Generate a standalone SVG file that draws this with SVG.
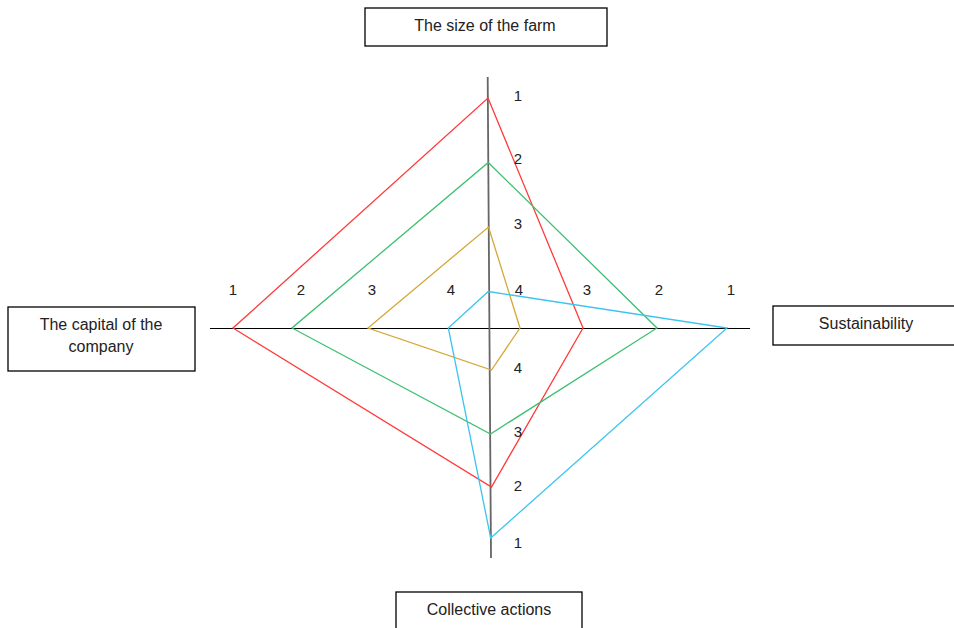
<svg xmlns="http://www.w3.org/2000/svg" width="954" height="628" viewBox="0 0 954 628">
<style>
.box{fill:#fff;stroke:#000;stroke-width:1.3}
.t{font-family:"Liberation Sans",Arial,sans-serif;font-size:16px;fill:#222;text-anchor:middle}
.n{font-family:"Liberation Sans",Arial,sans-serif;font-size:15px;fill:#222;text-anchor:middle}
.p{fill:none;stroke-width:1.3}
</style>
<rect width="954" height="628" fill="#fff"/>
<g id="axes">
<line x1="210" y1="328.5" x2="750" y2="328.5" stroke="#000" stroke-width="1"/>
<line x1="487.7" y1="77" x2="491" y2="558" stroke="#666" stroke-width="1.8"/>
</g>
<g id="connectors">
<polygon class="p" stroke="#ff3b3b" points="488,98 583,328 491.5,487 233,328"/>
<polygon class="p" stroke="#3cc070" points="488.3,162.5 657,328 490.5,434 292,328"/>
<polygon class="p" stroke="#d4a838" points="488.5,227 520,328 491.5,370 368,328"/>
<polygon class="p" stroke="#3cc4f0" points="488.3,291.5 727,328 490.7,538 448.3,328"/>
</g>
<g id="labels">
<text class="n" x="518" y="101">1</text>
<text class="n" x="518" y="164">2</text>
<text class="n" x="518" y="229">3</text>
<text class="n" x="519" y="295">4</text>
<text class="n" x="233" y="295">1</text>
<text class="n" x="301" y="295">2</text>
<text class="n" x="372" y="295">3</text>
<text class="n" x="451" y="295">4</text>
<text class="n" x="587" y="295">3</text>
<text class="n" x="659" y="295">2</text>
<text class="n" x="731" y="295">1</text>
<text class="n" x="518" y="373">4</text>
<text class="n" x="518" y="437">3</text>
<text class="n" x="518" y="491">2</text>
<text class="n" x="518" y="548">1</text>
</g>
<g id="node-farm">
<rect class="box" x="365" y="8" width="242" height="38"/>
<text class="t" x="485" y="31">The size of the farm</text>
</g>
<g id="node-capital">
<rect class="box" x="8" y="307" width="187" height="64"/>
<text class="t" x="101" y="330">The capital of the</text>
<text class="t" x="101" y="352">company</text>
</g>
<g id="node-sustainability">
<rect class="box" x="773" y="306" width="186" height="39"/>
<text class="t" x="866" y="329">Sustainability</text>
</g>
<g id="node-collective">
<rect class="box" x="396" y="592" width="186" height="42"/>
<text class="t" x="489" y="615">Collective actions</text>
</g>
</svg>
